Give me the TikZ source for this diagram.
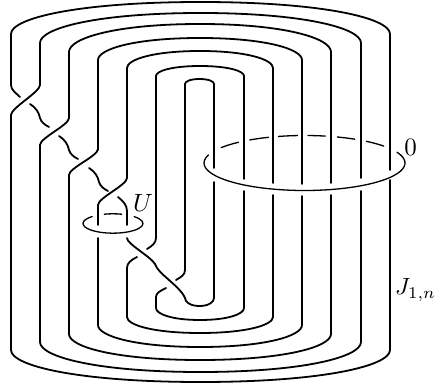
\documentclass[tikz,border=0pt]{standalone}
\usepackage{amsmath,amssymb}
\usetikzlibrary{positioning, calc}
\tikzset{
	knotline/.style={draw=black, line width=1.8pt, line cap=round},
	ringline/.style={draw=black, line width=1.3pt, line cap=round},
	marklabel/.style={scale=2.5, inner sep=0pt}
}
\begin{document}
\begin{tikzpicture}[x=1pt, y=-1pt]
	\useasboundingbox (0,0) rectangle (434,385);
	\foreach \l/\r/\t/\s/\e/\g in {11/390/2/34/85/170, 40/361/13/43/85/178, 69/331/24/52/118/183,
			98/302/38/60/150/184, 127/273/51/68/178/183, 156/244/66/76/238/179, 185/214/79/84/270/168}
		\draw[knotline] (\l,\e) -- (\l,\s)
			.. controls (\l,{\t+0.5*(\s-\t)}) and ({\l+0.18*(\r-\l)},\t) .. ({(\l+\r)/2},\t)
			.. controls ({\r-0.18*(\r-\l)},\t) and (\r,{\t+0.5*(\s-\t)}) .. (\r,\s) -- (\r,\g);
	\foreach \l/\r/\b/\s/\e/\g in {11/390/382/350/115/180, 40/361/372/342/145/191, 69/331/360/334/175/195,
			98/302/347/325/238/196, 127/273/333/317/268/195, 156/244/320/308/297/191, 185/214/306/298/298/182}
		\draw[knotline] (\l,\e) -- (\l,\s)
			.. controls (\l,{\b-0.5*(\b-\s)}) and ({\l+0.18*(\r-\l)},\b) .. ({(\l+\r)/2},\b)
			.. controls ({\r-0.18*(\r-\l)},\b) and (\r,{\b-0.5*(\b-\s)}) .. (\r,\s) -- (\r,\g);
	% strands passing over
	\foreach \a/\b/\c/\d in {40/85/11/115, 69/118/40/145, 98/149/69/175, 127/178/98/205}
		\draw[knotline] (\a,\b) .. controls (\a,{\b+7}) and (\c,{\d-7}) .. (\c,\d);
	\draw[knotline] (98,205) -- (98,225);
	\draw[knotline] (127,238) .. controls (127,244) and (150,256) .. (155,264)
		.. controls (158,274) and (180,286) .. (185,298);
	% strands passing under
	\draw[knotline] (11,85) .. controls (11,90) and (16,93) .. (20,97);
	\foreach \a/\b in {30/104, 59/136, 89/168}
		\draw[knotline] (\a,\b) .. controls ({\a+5},{\b+3}) and ({\a+9},{\b+8}) .. ({\a+10},{\b+14})
			.. controls ({\a+11},{\b+18}) and ({\a+15},{\b+21}) .. ({\a+19},{\b+23});
	\draw[knotline] (118,197) .. controls (123,201) and (127,205) .. (127,211) -- (127,225);
	\draw[knotline] (156,238) .. controls (156,243) and (152,246) .. (147,249);
	\draw[knotline] (137,257) .. controls (131,260) and (127,263) .. (127,268);
	\draw[knotline] (185,270) .. controls (185,275) and (181,277) .. (176,280);
	\draw[knotline] (166,288) .. controls (160,291) and (156,293) .. (156,297);
	% the two rings
	\draw[ringline] ($(304.5,163)+(197:100.5 and 27.5)$) arc[start angle=197, end angle=-23, x radius=100.5, y radius=27.5];
	\foreach \p/\q in {214/229, 237/249, 255/266, 272/282, 289/300, 308/322}
		\draw[ringline] ($(304.5,163)+(\p:100.5 and 27.5)$) arc[start angle=\p, end angle=\q, x radius=100.5, y radius=27.5];
	\draw[ringline] ($(113,223.5)+(226:30 and 9.7)$) arc[start angle=226, end angle=-45, x radius=30, y radius=9.7];
	\draw[ringline] ($(113,223.5)+(253:30 and 9.7)$) arc[start angle=253, end angle=287, x radius=30, y radius=9.7];
	\node[marklabel] (ulabel) at (143,203) {$U$};
	\node[marklabel] (zero) at (410.5,147) {$0$};
	\node[marklabel, scale=0.94] (jlabel) at (415.5,290) {$J_{1,n}$};
\end{tikzpicture}
\end{document}
